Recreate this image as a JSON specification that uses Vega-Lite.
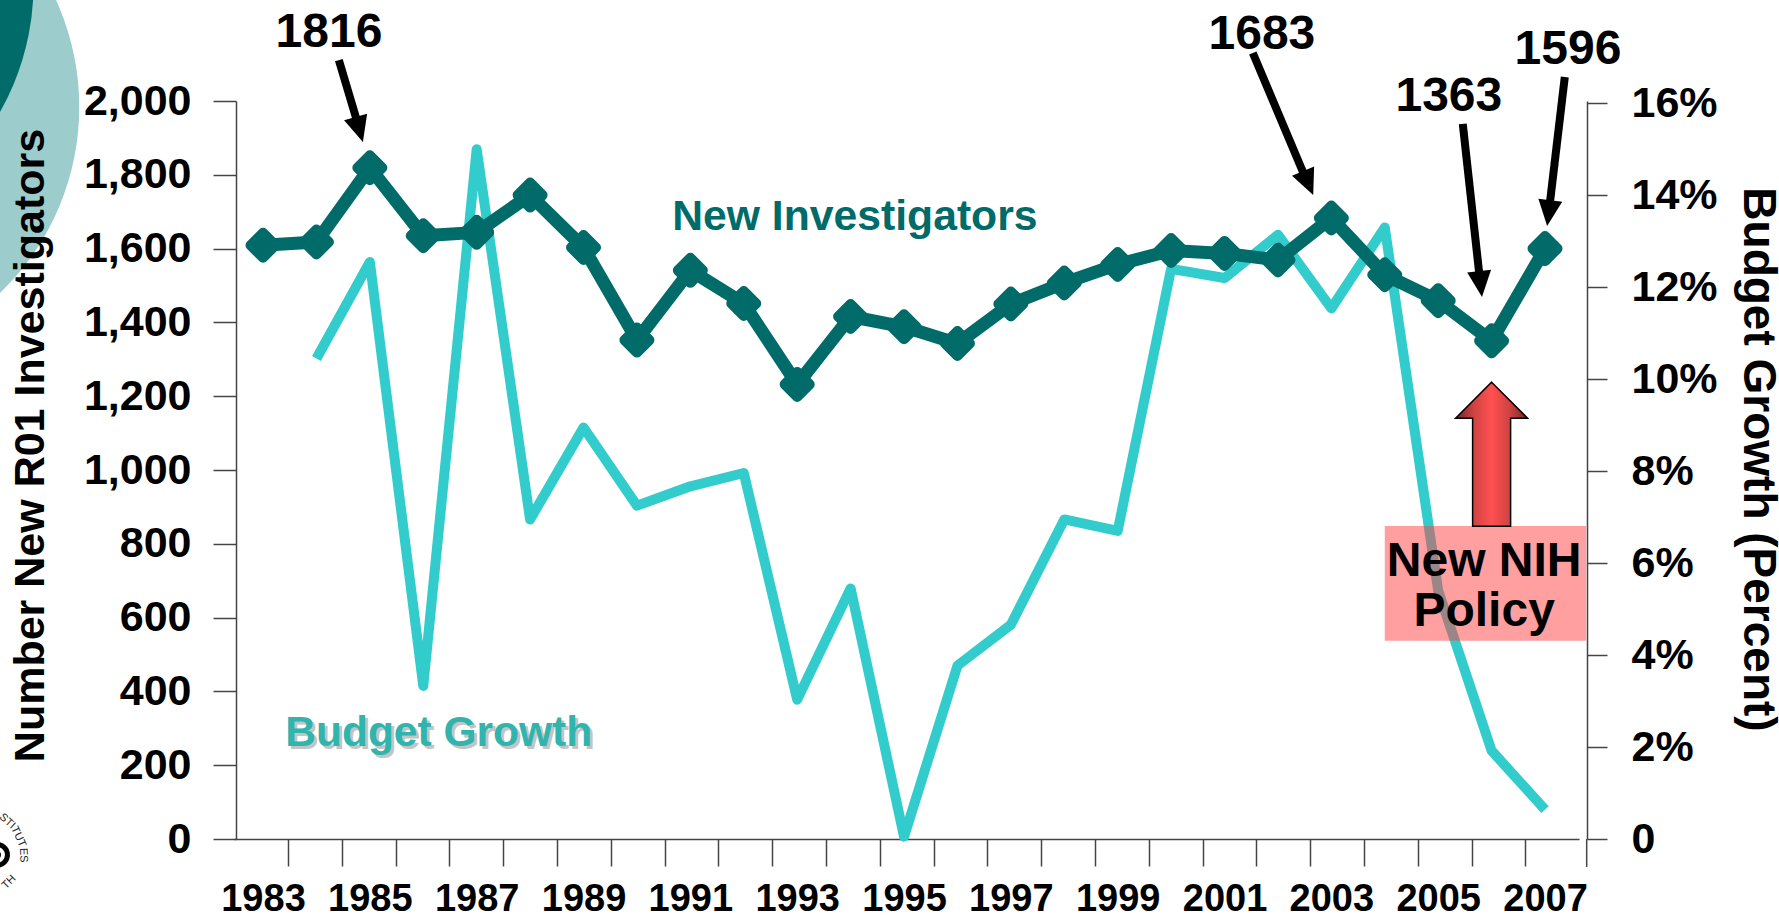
{
"$schema":"https://vega.github.io/schema/vega-lite/v6.json",
"width":1345,"height":738,
"autosize":{"type":"none"},
"padding":{"left":234,"top":101,"right":200,"bottom":77},
"background":"white",
"config":{"view":{"stroke":null},"font":"Liberation Sans","axis":{"grid":false,"labelFont":"Liberation Sans","titleFont":"Liberation Sans","labelFontWeight":"bold","titleFontWeight":"bold","labelColor":"#000000","titleColor":"#000000","domainColor":"#444444","tickColor":"#444444","domainWidth":1.5,"tickWidth":1.5}},
"datasets":{
"inv":[{"year":1983,"n":1609},{"year":1984,"n":1618},{"year":1985,"n":1819},{"year":1986,"n":1635},{"year":1987,"n":1644},{"year":1988,"n":1745},{"year":1989,"n":1603},{"year":1990,"n":1352},{"year":1991,"n":1541},{"year":1992,"n":1451},{"year":1993,"n":1232},{"year":1994,"n":1416},{"year":1995,"n":1388},{"year":1996,"n":1343},{"year":1997,"n":1450},{"year":1998,"n":1507},{"year":1999,"n":1557},{"year":2000,"n":1595},{"year":2001,"n":1587},{"year":2002,"n":1569},{"year":2003,"n":1683},{"year":2004,"n":1529},{"year":2005,"n":1459},{"year":2006,"n":1350},{"year":2007,"n":1600}],
"budget":[{"year":1984,"g":10.45},{"year":1985,"g":12.55},{"year":1986,"g":3.33},{"year":1987,"g":15.0},{"year":1988,"g":6.95},{"year":1989,"g":8.95},{"year":1990,"g":7.25},{"year":1991,"g":7.67},{"year":1992,"g":7.96},{"year":1993,"g":3.03},{"year":1994,"g":5.45},{"year":1995,"g":0.05},{"year":1996,"g":3.77},{"year":1997,"g":4.66},{"year":1998,"g":6.95},{"year":1999,"g":6.7},{"year":2000,"g":12.4},{"year":2001,"g":12.2},{"year":2002,"g":13.14},{"year":2003,"g":11.54},{"year":2004,"g":13.3},{"year":2005,"g":5.4},{"year":2006,"g":1.92},{"year":2007,"g":0.64}],
"callouts":[
{"label":"1816","tx":1984.235,"ty":2146,"x0":1984.42,"y0":2111,"x1":1984.78,"y1":1936,"tipx":1984.87,"tipy":1889},
{"label":"1683","tx":2001.7,"ty":2141,"x0":2001.53,"y0":2130,"x1":2002.52,"y1":1790,"tipx":2002.66,"tipy":1745},
{"label":"1363","tx":2005.2,"ty":1973,"x0":2005.46,"y0":1938,"x1":2005.78,"y1":1517,"tipx":2005.82,"tipy":1469},
{"label":"1596","tx":2007.43,"ty":2100,"x0":2007.37,"y0":2065,"x1":2007.08,"y1":1710,"tipx":2007.04,"tipy":1661}
],
"notes":[
{"t":"New NIH","year":2005.86,"v":713},
{"t":"Policy","year":2005.86,"v":576}
],
"seal":[
{"t":"STI","year":1978.21,"v":48},
{"t":"TUT","year":1978.42,"v":6},
{"t":"ES","year":1978.51,"v":-44},
{"t":"TH","year":1978.245,"v":-117}
]
},
"resolve":{"scale":{"y":"independent"},"axis":{"x":"independent","y":"independent"}},
"layer":[
{"layer":[
{"data":{"name":"budget"},
"mark":{"type":"line","color":"#33cccc","strokeWidth":10,"strokeCap":"butt","strokeJoin":"round"},
"encoding":{
"x":{"field":"year","type":"quantitative","scale":{"domain":[1982.457,2007.636],"nice":false,"zero":false},
"axis":{"orient":"bottom","title":null,"values":[1983.47,1984.477,1985.484,1986.491,1987.498,1988.505,1989.512,1990.519,1991.526,1992.533,1993.54,1994.547,1995.554,1996.561,1997.568,1998.575,1999.582,2000.589,2001.596,2002.603,2003.61,2004.617,2005.624,2006.631],"labels":false,"tickSize":27,"domain":true}},
"y":{"field":"g","type":"quantitative","scale":{"domain":[0,16.05],"nice":false,"zero":false},
"axis":{"orient":"right","title":"Budget Growth (Percent)","titleFontSize":46,"titleAngle":90,"titleAlign":"center","titleBaseline":"alphabetic","titleX":156,"titleY":358,"offset":8,"values":[0,2,4,6,8,10,12,14,16],"labelExpr":"datum.value==0?'0':datum.value+'%'","labelFontSize":43,"tickSize":20,"labelPadding":24}}
}}
]},
{"layer":[
{"data":{"values":[{"year":1973.85,"v":2316}]},
"mark":{"type":"circle","size":0,"opacity":0},
"encoding":{
"x":{"field":"year","type":"quantitative","scale":{"domain":[1982.457,2007.636],"nice":false,"zero":false},
"axis":{"orient":"bottom","title":null,"values":[1983,1985,1987,1989,1991,1993,1995,1997,1999,2001,2003,2005,2007],"format":"d","ticks":false,"domain":false,"labelFontSize":38,"labelPadding":41,"labelOverlap":false,"labelFlush":false}},
"y":{"field":"v","type":"quantitative","scale":{"domain":[0,2000],"nice":false,"zero":false},
"axis":{"orient":"left","title":"Number New R01 Investigators","titleFontSize":43,"titleAngle":-90,"titleAlign":"center","titleBaseline":"alphabetic","titleX":-193,"titleY":344,"offset":-2,"values":[0,200,400,600,800,1000,1200,1400,1600,1800,2000],"format":",.0f","labelFontSize":43,"tickSize":23,"labelPadding":22,"zindex":1}}
}},
{"data":{"values":[{"year":1974.73,"v":1984}]},
"mark":{"type":"circle","size":266256,"color":"#9ccccc","opacity":1},
"encoding":{"x":{"field":"year","type":"quantitative"},"y":{"field":"v","type":"quantitative"}}},
{"data":{"values":[{"year":1973.85,"v":2316}]},
"mark":{"type":"circle","size":269000,"color":"#006b68","opacity":1},
"encoding":{"x":{"field":"year","type":"quantitative"},"y":{"field":"v","type":"quantitative"}}},
{"data":{"values":[{"year":1978.02,"v":-43}]},
"mark":{"type":"point","shape":"circle","filled":false,"opacity":1,"size":441,"color":"#000000","strokeWidth":5},
"encoding":{"x":{"field":"year","type":"quantitative"},"y":{"field":"v","type":"quantitative"}}},
{"data":{"values":[{"year":1978.02,"v":-43}]},
"mark":{"type":"circle","size":64,"color":"#000000","opacity":1},
"encoding":{"x":{"field":"year","type":"quantitative"},"y":{"field":"v","type":"quantitative"}}},
{"data":{"name":"seal"},"transform":[{"filter":"datum.t=='STI'"}],
"mark":{"type":"text","font":"Liberation Sans","fontSize":11,"color":"#222222","align":"center","baseline":"middle","angle":42},
"encoding":{"x":{"field":"year","type":"quantitative"},"y":{"field":"v","type":"quantitative"},"text":{"field":"t"}}},
{"data":{"name":"seal"},"transform":[{"filter":"datum.t=='TUT'"}],
"mark":{"type":"text","font":"Liberation Sans","fontSize":11,"color":"#222222","align":"center","baseline":"middle","angle":65},
"encoding":{"x":{"field":"year","type":"quantitative"},"y":{"field":"v","type":"quantitative"},"text":{"field":"t"}}},
{"data":{"name":"seal"},"transform":[{"filter":"datum.t=='ES'"}],
"mark":{"type":"text","font":"Liberation Sans","fontSize":11,"color":"#222222","align":"center","baseline":"middle","angle":88},
"encoding":{"x":{"field":"year","type":"quantitative"},"y":{"field":"v","type":"quantitative"},"text":{"field":"t"}}},
{"data":{"name":"seal"},"transform":[{"filter":"datum.t=='TH'"}],
"mark":{"type":"text","font":"Liberation Sans","fontSize":11,"color":"#222222","align":"center","baseline":"middle","angle":-45},
"encoding":{"x":{"field":"year","type":"quantitative"},"y":{"field":"v","type":"quantitative"},"text":{"field":"t"}}},
{"data":{"values":[{"year":2004.0,"v":848,"year2":2007.77,"v2":537}]},
"mark":{"type":"rect","color":"#ff4141","opacity":0.505},
"encoding":{"x":{"field":"year","type":"quantitative"},"x2":{"field":"year2"},"y":{"field":"v","type":"quantitative"},"y2":{"field":"v2"}}},
{"data":{"values":[{"year":2006,"v":1238}]},
"mark":{"type":"point","filled":true,"opacity":1,"size":4,"shape":"M0,0 L36,36 L19,36 L19,144 L-19,144 L-19,36 L-36,36 Z","stroke":"#000000","strokeWidth":1.5,"fill":{"gradient":"linear","x1":0,"y1":0,"x2":1,"y2":0,"stops":[{"offset":0,"color":"#702525"},{"offset":0.25,"color":"#d04242"},{"offset":0.5,"color":"#ff5050"},{"offset":0.75,"color":"#d04242"},{"offset":1,"color":"#702525"}]}},
"encoding":{"x":{"field":"year","type":"quantitative"},"y":{"field":"v","type":"quantitative"}}},
{"data":{"name":"notes"},
"mark":{"type":"text","font":"Liberation Sans","fontWeight":"bold","fontSize":48,"color":"#000000","align":"center","baseline":"alphabetic"},
"encoding":{"x":{"field":"year","type":"quantitative"},"y":{"field":"v","type":"quantitative"},"text":{"field":"t"}}},
{"data":{"values":[{"year":2007.78,"v":0,"v2":-76}]},
"mark":{"type":"rule","color":"#444444","strokeWidth":1.5},
"encoding":{"x":{"field":"year","type":"quantitative"},"y":{"field":"v","type":"quantitative"},"y2":{"field":"v2"}}},
{"data":{"name":"inv"},
"mark":{"type":"line","color":"#006b68","strokeWidth":13,"strokeJoin":"round"},
"encoding":{"x":{"field":"year","type":"quantitative"},"y":{"field":"n","type":"quantitative"}}},
{"data":{"name":"inv"},
"mark":{"type":"point","shape":"diamond","filled":true,"opacity":1,"size":625,"color":"#006b68","stroke":"#006b68","strokeWidth":10,"strokeJoin":"round"},
"encoding":{"x":{"field":"year","type":"quantitative"},"y":{"field":"n","type":"quantitative"}}},
{"data":{"values":[{"t":"New Investigators","year":1994.08,"v":1650}]},
"mark":{"type":"text","font":"Liberation Sans","fontWeight":"bold","fontSize":42.7,"color":"#006b68","align":"center","baseline":"alphabetic"},
"encoding":{"x":{"field":"year","type":"quantitative"},"y":{"field":"v","type":"quantitative"},"text":{"field":"t"}}},
{"data":{"values":[{"t":"Budget Growth","year":1986.29,"v":252}]},
"mark":{"type":"text","font":"Liberation Sans","fontWeight":"bold","fontSize":42.5,"color":"#c4c4c4","align":"center","baseline":"alphabetic","dx":3,"dy":3},
"encoding":{"x":{"field":"year","type":"quantitative"},"y":{"field":"v","type":"quantitative"},"text":{"field":"t"}}},
{"data":{"values":[{"t":"Budget Growth","year":1986.29,"v":252}]},
"mark":{"type":"text","font":"Liberation Sans","fontWeight":"bold","fontSize":42.5,"color":"#2fb5ae","align":"center","baseline":"alphabetic"},
"encoding":{"x":{"field":"year","type":"quantitative"},"y":{"field":"v","type":"quantitative"},"text":{"field":"t"}}},
{"data":{"name":"callouts"},
"mark":{"type":"text","font":"Liberation Sans","fontWeight":"bold","fontSize":48,"color":"#000000","align":"center","baseline":"alphabetic"},
"encoding":{"x":{"field":"tx","type":"quantitative"},"y":{"field":"ty","type":"quantitative"},"text":{"field":"label"}}},
{"data":{"name":"callouts"},
"mark":{"type":"rule","color":"#000000","strokeWidth":8},
"encoding":{"x":{"field":"x0","type":"quantitative"},"x2":{"field":"x1"},"y":{"field":"y0","type":"quantitative"},"y2":{"field":"y1"}}},
{"data":{"name":"callouts"},"transform":[{"filter":"datum.label=='1816'"}],
"mark":{"type":"point","filled":true,"opacity":1,"color":"#000000","strokeWidth":0,"size":4,"shape":"M0,0 L12,26 L-12,26 Z","angle":163.7},
"encoding":{"x":{"field":"tipx","type":"quantitative"},"y":{"field":"tipy","type":"quantitative"}}},
{"data":{"name":"callouts"},"transform":[{"filter":"datum.label=='1683'"}],
"mark":{"type":"point","filled":true,"opacity":1,"color":"#000000","strokeWidth":0,"size":4,"shape":"M0,0 L12,26 L-12,26 Z","angle":157.1},
"encoding":{"x":{"field":"tipx","type":"quantitative"},"y":{"field":"tipy","type":"quantitative"}}},
{"data":{"name":"callouts"},"transform":[{"filter":"datum.label=='1363'"}],
"mark":{"type":"point","filled":true,"opacity":1,"color":"#000000","strokeWidth":0,"size":4,"shape":"M0,0 L12,26 L-12,26 Z","angle":173.7},
"encoding":{"x":{"field":"tipx","type":"quantitative"},"y":{"field":"tipy","type":"quantitative"}}},
{"data":{"name":"callouts"},"transform":[{"filter":"datum.label=='1596'"}],
"mark":{"type":"point","filled":true,"opacity":1,"color":"#000000","strokeWidth":0,"size":4,"shape":"M0,0 L12,26 L-12,26 Z","angle":186.9},
"encoding":{"x":{"field":"tipx","type":"quantitative"},"y":{"field":"tipy","type":"quantitative"}}}
]}
]
}
